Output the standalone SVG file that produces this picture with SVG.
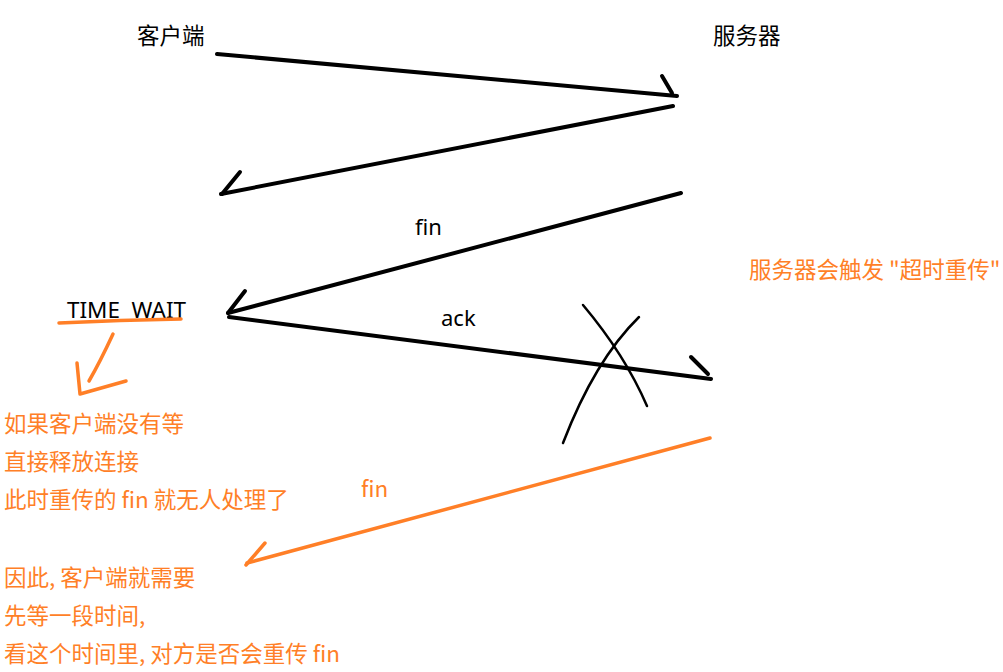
<svg xmlns="http://www.w3.org/2000/svg" width="1003" height="672" viewBox="0 0 1003 672">
<style>
.k{fill:none;stroke:#000;stroke-width:4;stroke-linecap:round;stroke-linejoin:round}
.x{fill:none;stroke:#000;stroke-width:2.5;stroke-linecap:round}
.o{fill:none;stroke:#FF7F27;stroke-width:3.5;stroke-linecap:round;stroke-linejoin:round}
.t{font-family:"Noto Sans CJK SC","Noto Sans",sans-serif;font-size:22.5px;fill:#000}
.l{font-family:"Noto Sans","Open Sans",sans-serif;font-size:22px;fill:#000}
.ot{font-family:"Noto Sans CJK SC","Noto Sans",sans-serif;font-size:22.5px;fill:#FF7F27;white-space:pre}
</style>
<rect width="1003" height="672" fill="#fff"/>
<g id="client"><text class="t" x="137" y="44">客户端</text></g>
<g id="server"><text class="t" x="713" y="44">服务器</text></g>
<g id="timewait">
<text class="l" x="67" y="318" textLength="119" lengthAdjust="spacingAndGlyphs" style="white-space:pre">TIME  WAIT</text>
<path class="o" d="M59 323 Q120 320 181 319"/>
<path class="o" d="M113 334 Q100 362 89 381"/>
<path class="o" d="M77 363 L80 394 L126 381"/>
</g>
<g id="connectors">
<path class="k" d="M217 54 L677 96"/>
<path class="k" d="M662 76 L672 93"/>
<path class="k" d="M673 106 L221 194"/>
<path class="k" d="M240 172 L222 194"/>
<path class="k" d="M681 193 L228 313"/>
<path class="k" d="M245 291 L228 313"/>
<path class="k" d="M229 317 L711 379"/>
<path class="k" d="M691 357 L708 374"/>
<path class="x" d="M583 305 Q625 355 647 406"/>
<path class="x" d="M639 317 Q595 360 563 443"/>
<path class="o" d="M710 438 L247 563"/>
<path class="o" d="M265 543 L246 565"/>
</g>
<g id="labels">
<text class="l" x="415" y="235">fin</text>
<text class="l" x="441" y="326">ack</text>
<text class="ot" x="361" y="497">fin</text>
<text class="ot" x="749" y="278">服务器会触发 "超时重传"</text>
<text class="ot" x="4" y="432">如果客户端没有等</text>
<text class="ot" x="4" y="470">直接释放连接</text>
<text class="ot" x="4" y="508">此时重传的 fin 就无人处理了</text>
<text class="ot" x="4" y="586">因此, 客户端就需要</text>
<text class="ot" x="4" y="624">先等一段时间,</text>
<text class="ot" x="4" y="662">看这个时间里, 对方是否会重传 fin</text>
</g>
</svg>
